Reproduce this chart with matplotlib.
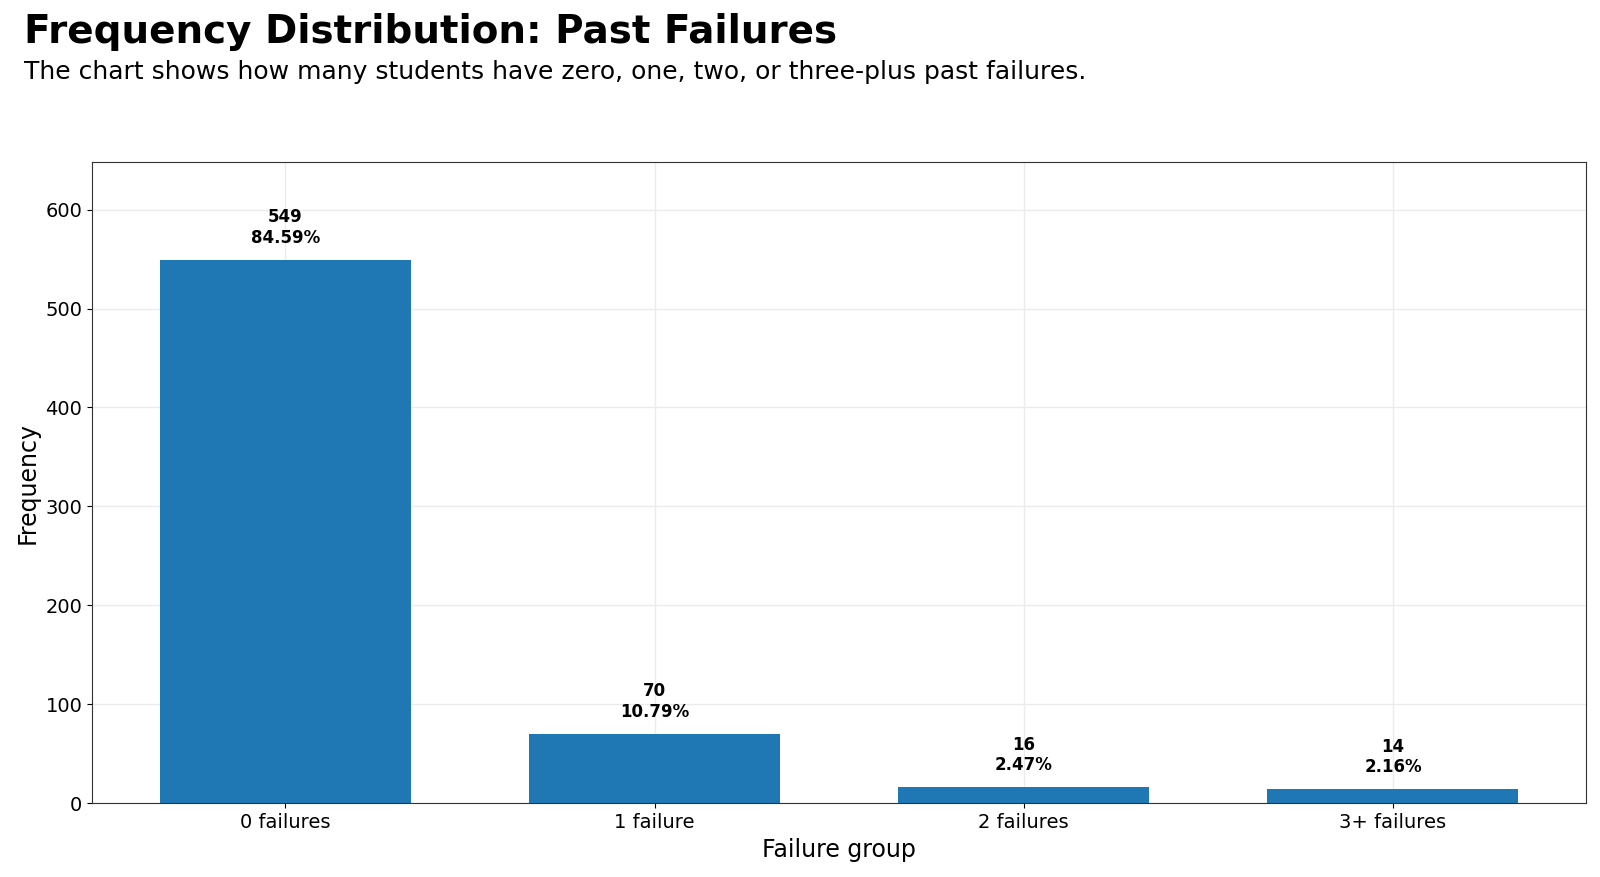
import matplotlib.pyplot as plt
import numpy as np

groups = ['0 failures', '1 failure', '2 failures', '3+ failures']
counts = [549, 70, 16, 14]
percents = [84.59, 10.79, 2.47, 2.16]

fig = plt.figure(figsize=(16, 8.77), dpi=100)
ax = fig.add_axes([0.0575, 0.084, 0.934, 0.731])

x = np.arange(len(groups))
ax.bar(x, counts, width=0.68, color='#1f77b4')
ax.set_xticks(x)
ax.set_xticklabels(groups, fontsize=14)
ax.tick_params(axis='y', labelsize=14)
ax.set_ylim(0, max(counts) * 1.18)
ax.set_axisbelow(True)
ax.grid(True, color='#ebebeb', linewidth=1)

for xi, c, p in zip(x, counts, percents):
    ax.text(xi, c + max(counts) * 0.024, f'{c}\n{p:.2f}%', ha='center', va='bottom',
            fontsize=12, fontweight='bold', linespacing=1.2)

ax.set_xlabel('Failure group', fontsize=17)
ax.set_ylabel('Frequency', fontsize=17)
for s in ax.spines.values():
    s.set_color('#333333')

fig.text(0.015, 0.985, 'Frequency Distribution: Past Failures', fontsize=28,
         fontweight='bold', va='top', ha='left')
fig.text(0.015, 0.932, 'The chart shows how many students have zero, one, two, or three-plus past failures.',
         fontsize=18, va='top', ha='left')

fig.savefig('out.png', dpi=100)
